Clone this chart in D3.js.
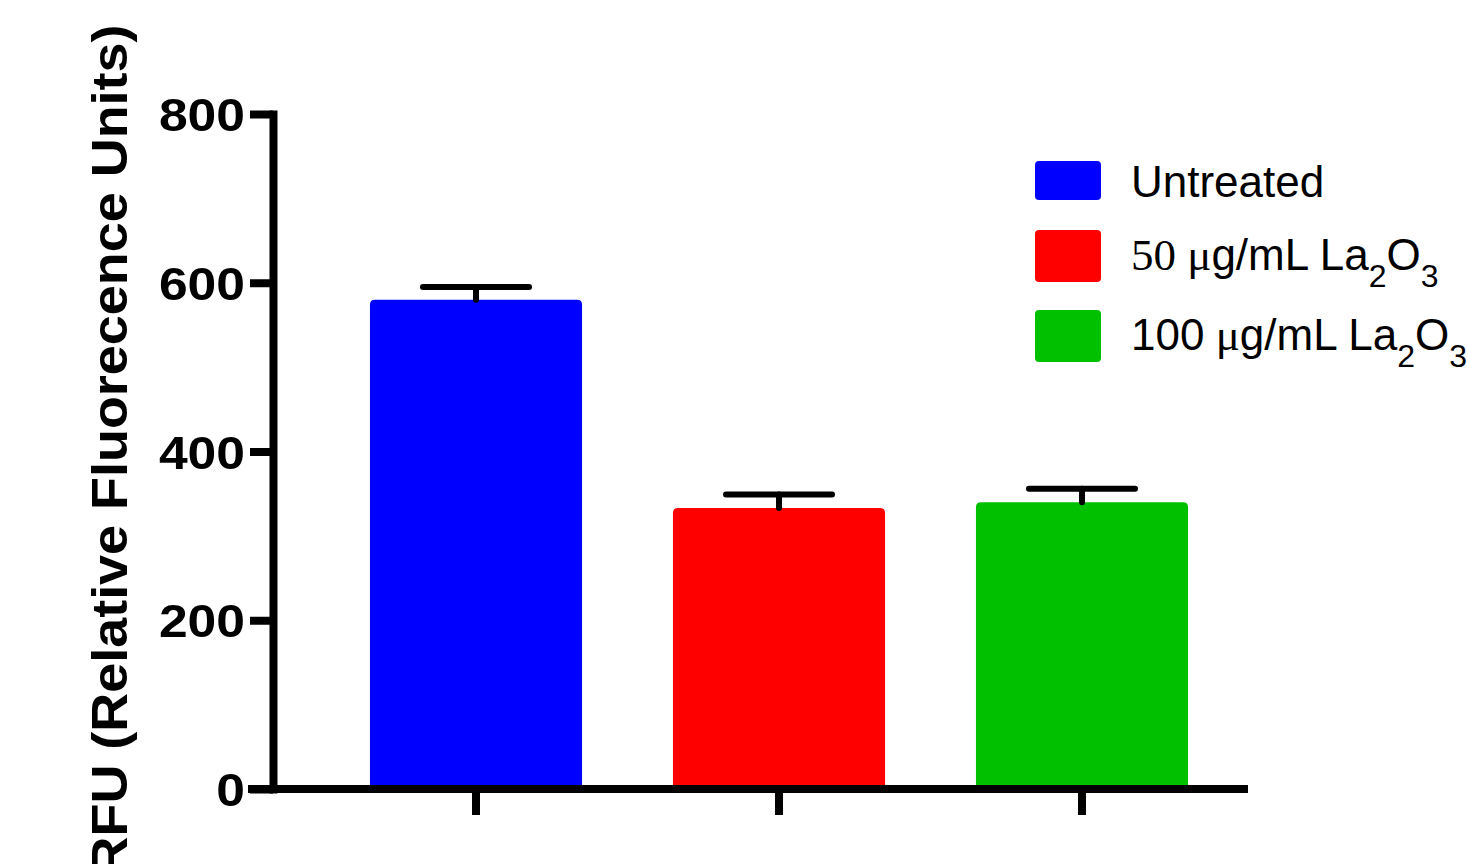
<!DOCTYPE html>
<html>
<head>
<meta charset="utf-8">
<script src="https://cdn.jsdelivr.net/npm/d3@7"></script>
<style>
  html, body { margin: 0; padding: 0; background: #ffffff; }
  svg { display: block; }
</style>
</head>
<body>
<script>
// Group names, mean RFU, SEM and fills
const categories = ["Untreated", "50 μg/mL La2O3", "100 μg/mL La2O3"];
const means = [580, 333, 340];
const errors = [15, 16, 16];
const colors = ["#0000FF", "#FF0000", "#00C000"];
const yTicks = [0, 200, 400, 600, 800];
const yTitle = "RFU (Relative Fluorecence Units)";

// Legend labels as styled runs (serif digits, subscripts)
const legendRuns = [
  [{ t: "Untreated" }],
  [{ t: "50", serif: true }, { t: " μ", serif: true }, { t: "g/mL La" }, { t: "2", sub: true }, { t: "O" }, { t: "3", sub: true }],
  [{ t: "100" }, { t: " μ", serif: true }, { t: "g/mL La" }, { t: "2", sub: true }, { t: "O" }, { t: "3", sub: true }]
];

const W = 1468, H = 864;
const SANS = "'Liberation Sans', Arial, Helvetica, sans-serif";
const SERIF = "'Liberation Serif', 'Times New Roman', serif";

const svg = d3.select("body").append("svg").attr("width", W).attr("height", H);

const axisX0 = 273;          // y-axis position
const baseLeft = 248, baseRight = 1248;

const y = d3.scaleLinear().domain([0, 800]).range([789, 114]);
const x = d3.scaleBand()
  .domain(categories)
  .range([324.5, 1233.5])
  .paddingInner(0.3)
  .paddingOuter(0.15);

// Bars with softly rounded top corners
function topRounded(x0, x1, yTop, yBase, r) {
  return `M${x0},${yBase}V${yTop + r}Q${x0},${yTop} ${x0 + r},${yTop}H${x1 - r}Q${x1},${yTop} ${x1},${yTop + r}V${yBase}Z`;
}
svg.append("g").selectAll("path")
  .data(categories)
  .join("path")
  .attr("d", (d, i) => topRounded(x(d), x(d) + x.bandwidth(), y(means[i]), y(0), 5))
  .attr("fill", (d, i) => colors[i]);

// Upper error bars
const eb = svg.append("g")
  .attr("stroke", "#000").attr("stroke-width", 6).attr("stroke-linecap", "round").attr("fill", "none");
categories.forEach((d, i) => {
  const cx = x(d) + x.bandwidth() / 2;
  const capHalf = x.bandwidth() / 4;
  eb.append("line").attr("x1", cx).attr("x2", cx).attr("y1", y(means[i])).attr("y2", y(means[i] + errors[i]));
  eb.append("line").attr("x1", cx - capHalf).attr("x2", cx + capHalf)
    .attr("y1", y(means[i] + errors[i])).attr("y2", y(means[i] + errors[i]));
});

// Y axis
const gy = svg.append("g")
  .attr("transform", `translate(${axisX0},0)`)
  .call(d3.axisLeft(y).tickValues(yTicks).tickSize(23).tickSizeOuter(0).tickPadding(5));
gy.select(".domain").attr("stroke", "#000").attr("stroke-width", 8).attr("stroke-linecap", "square");
gy.selectAll(".tick line").attr("stroke", "#000").attr("stroke-width", 8);
gy.selectAll(".tick text")
  .attr("fill", "#000")
  .style("font-family", SANS).style("font-weight", "bold").style("font-size", "46px")
  .attr("dy", "0.36em")
  .attr("textLength", function () { return this.textContent.length * 28.7; })
  .attr("lengthAdjust", "spacingAndGlyphs");

// X axis baseline and category ticks
svg.append("line")
  .attr("x1", baseLeft).attr("x2", baseRight).attr("y1", y(0)).attr("y2", y(0))
  .attr("stroke", "#000").attr("stroke-width", 8);
const gx = svg.append("g")
  .attr("transform", `translate(0,${y(0)})`)
  .call(d3.axisBottom(x).tickSize(26).tickSizeOuter(0).tickFormat(""));
gx.select(".domain").remove();
gx.selectAll(".tick line").attr("stroke", "#000").attr("stroke-width", 8);

// Y axis title
svg.append("text")
  .attr("transform", "translate(127,450) rotate(-90)")
  .attr("text-anchor", "middle")
  .style("font-family", SANS).style("font-weight", "bold").style("font-size", "50px")
  .attr("textLength", 851).attr("lengthAdjust", "spacingAndGlyphs")
  .text(yTitle);

// Legend
const legBaselines = [197, 270, 350];
const leg = svg.append("g");
legendRuns.forEach((runs, i) => {
  const hasSub = runs.some(r => r.sub);
  const b = legBaselines[i];
  leg.append("rect")
    .attr("x", 1035).attr("y", hasSub ? b - 40 : b - 36)
    .attr("width", 66).attr("height", hasSub ? 52 : 39)
    .attr("rx", 4).attr("fill", colors[i]);
  const t = leg.append("text")
    .attr("x", 1131).attr("y", b)
    .style("font-family", SANS).style("font-size", "44px").attr("fill", "#000");
  let shifted = false;
  runs.forEach(r => {
    const s = t.append("tspan").text(r.t);
    if (r.serif) s.style("font-family", SERIF).style("font-size", "45px");
    if (r.sub) {
      s.style("font-size", "32px").attr("dy", 17);
      shifted = true;
    } else if (shifted) {
      s.attr("dy", -17);
      shifted = false;
    }
  });
});
</script>
</body>
</html>
